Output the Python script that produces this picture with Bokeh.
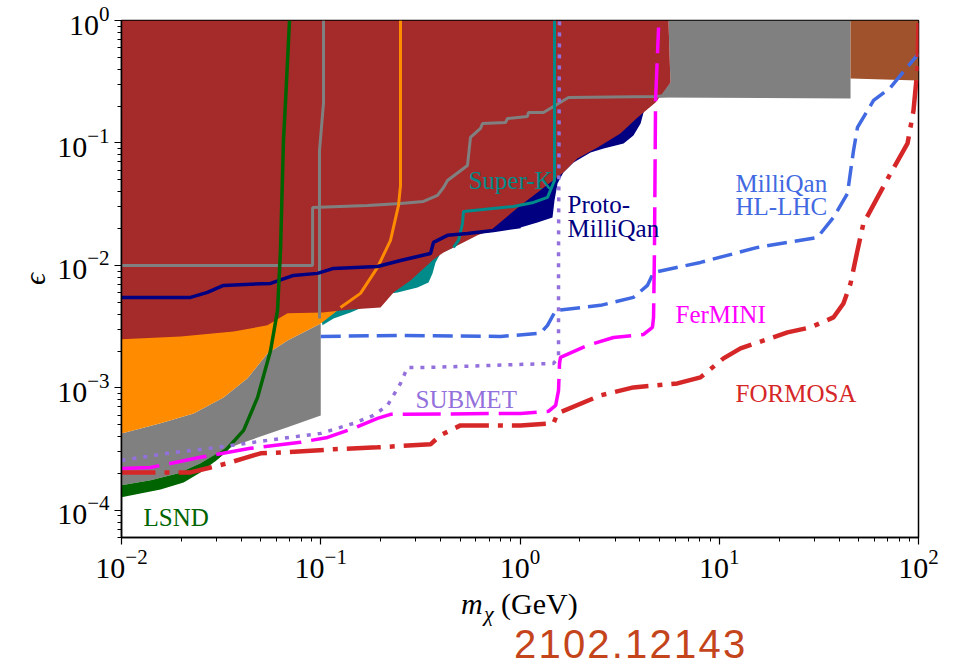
from bokeh.plotting import figure
from bokeh.models import Label, Div
from bokeh.layouts import column
from bokeh.embed import file_html
from bokeh.resources import INLINE

# ---------------- data (mass in GeV, epsilon) ----------------
brown_m = [0.01, 5.56, 5.69, 4.79, 3.89, 3.19, 2.45, 1.94, 1.65, 1.51, 1.006, 0.711, 0.612,
           0.4637, 0.4133, 0.368, 0.2821, 0.2318, 0.1995, 0.141, 0.102, 0.0681, 0.054,
           0.0365, 0.0198, 0.01]
brown_eps = [1.0, 1.0, 0.312, 0.214, 0.1615, 0.1196, 0.0919, 0.0747, 0.0574, 0.0513, 0.0309,
             0.0193, 0.0176, 0.01403, 0.01277, 0.01119, 0.00754, 0.00602, 0.00454, 0.00437,
             0.00413, 0.00406, 0.00324, 0.00289, 0.00263, 0.00249]

navy_m = [0.6335, 1.597, 4.52, 4.26, 4.03, 3.71, 3.31, 2.63, 2.26, 1.856, 1.65, 1.543, 1.49,
          1.456, 1.224, 1.006, 0.798, 0.6335]
navy_eps = [0.0212, 0.072, 0.244, 0.2024, 0.1443, 0.1151, 0.0991, 0.0902, 0.0836, 0.0693,
            0.0574, 0.0467, 0.0339, 0.0246, 0.0224, 0.0204, 0.0193, 0.01825]

teal_m = [0.1, 0.141, 0.2239, 0.3167, 0.5028, 0.5028, 0.4637, 0.399, 0.3767, 0.3638, 0.3474,
          0.3059, 0.2428, 0.2239, 0.1717, 0.141, 0.1159, 0.102]
teal_eps = [0.00398, 0.00489, 0.00687, 0.01058, 0.0176, 0.01541, 0.01403, 0.01253, 0.01058,
            0.00861, 0.00726, 0.00661, 0.00602, 0.00591, 0.00472, 0.00413, 0.00369, 0.00324]

orange_m = [0.01, 0.0681, 0.1256, 0.1256, 0.1, 0.0681, 0.054, 0.0429, 0.0325, 0.023, 0.0157, 0.01]
orange_eps = [0.00295, 0.00472, 0.00518, 0.00446, 0.00336, 0.00244, 0.00191, 0.0012,
              0.000836, 0.000619, 0.000513, 0.000425]

gray_low_m = [0.01, 0.0157, 0.023, 0.0325, 0.0429, 0.054, 0.0681, 0.1, 0.1, 0.0681, 0.0396,
              0.0325, 0.0249, 0.0191, 0.014, 0.01]
gray_low_eps = [0.000425, 0.000513, 0.000619, 0.000836, 0.0012, 0.00191, 0.00244, 0.00336,
                0.000596, 0.000476, 0.000352, 0.000309, 0.000242, 0.0002, 0.000176, 0.00016]

gray_top_m = [5.56, 45.6, 45.6, 4.9, 5.69]
gray_top_eps = [1.0, 1.0, 0.2308, 0.2351, 0.312]

sienna_m = [45.6, 100.0, 100.0, 45.6]
sienna_eps = [1.0, 1.0, 0.324, 0.336]

lsnd_fill_m = [0.01, 0.014, 0.0191, 0.0249, 0.0303, 0.0333, 0.0333, 0.029, 0.0249, 0.0205,
               0.0157, 0.01]
lsnd_fill_eps = [0.00016, 0.000176, 0.0002, 0.000242, 0.000292, 0.000321, 0.000298, 0.000246,
                 0.000204, 0.000169, 0.000148, 0.000128]

lsnd_m = [0.029, 0.0333, 0.041, 0.0482, 0.056, 0.0607, 0.0628, 0.065, 0.0666, 0.0697]
lsnd_eps = [0.000256, 0.000309, 0.00045, 0.000836, 0.00202, 0.00429, 0.01326, 0.1048, 0.2223, 1.0]

grayA_m = [0.1032, 0.1032, 0.0986, 0.0986]
grayA_eps = [1.0, 0.2101, 0.0869, 0.00369]

grayB_m = [0.01, 0.091, 0.091, 0.1717, 0.2514, 0.3279, 0.3854, 0.4133, 0.4326, 0.545, 0.5644,
           0.6335, 0.6483, 0.8459, 0.8656, 1.09, 1.103, 1.312, 1.752, 4.79, 5.56]
grayB_eps = [0.01, 0.01, 0.02975, 0.0309, 0.0321, 0.0333, 0.0373, 0.0433, 0.0494, 0.0655,
             0.1109, 0.1313, 0.1443, 0.147, 0.1585, 0.1646, 0.1774, 0.1774, 0.2351, 0.2396, 0.2441]

orange_line_m = [0.1256, 0.1583, 0.1927, 0.2239, 0.2456, 0.2514, 0.2514]
orange_line_eps = [0.00454, 0.00591, 0.00963, 0.016, 0.0309, 0.045, 1.0]

superk_m = [1.49, 1.49, 1.374, 1.169, 0.927, 0.5205, 0.5145, 0.4913, 0.4637]
superk_eps = [1.0, 0.0494, 0.0359, 0.0327, 0.0303, 0.0276, 0.022, 0.016, 0.01403]

proto_m = [0.01, 0.0222, 0.027, 0.0325, 0.056, 0.073, 0.0963, 0.1159, 0.1927, 0.2514, 0.3555,
           0.368, 0.4326, 0.545, 0.7362, 1.006]
proto_eps = [0.00548, 0.00548, 0.00602, 0.00687, 0.00713, 0.00829, 0.00861, 0.00945, 0.00981,
             0.01098, 0.01253, 0.01541, 0.0176, 0.01825, 0.0193, 0.0208]

hllhc_m = [0.1, 0.2514, 0.798, 1.267, 1.374, 1.51, 2.535, 3.71, 4.36, 4.68, 8.05, 15.56, 31.1,
           37.4, 44.0, 47.2, 49.4, 59.5, 72.4, 100.0]
hllhc_eps = [0.00263, 0.00268, 0.00263, 0.00279, 0.00324, 0.00429, 0.00472, 0.00548, 0.00687,
             0.00877, 0.01058, 0.01403, 0.01693, 0.0246, 0.0387, 0.0869, 0.1338, 0.2223,
             0.2838, 0.5377]

fermini_m = [0.01, 0.01398, 0.0249, 0.0444, 0.0791, 0.1081, 0.146, 0.1927, 0.2239, 1.006, 1.39,
             1.51, 1.561, 1.579, 1.597, 2.182, 2.947, 4.17, 4.62, 4.68, 4.73, 4.79, 4.96]
fermini_eps = [0.00022, 0.000224, 0.000271, 0.000321, 0.000359, 0.000394, 0.000467, 0.000564,
               0.000608, 0.000619, 0.000643, 0.00072, 0.000954, 0.001585, 0.001774, 0.00222,
               0.00258, 0.00273, 0.00312, 0.00376, 0.01326, 0.2223, 0.877]

submet_m = [0.01, 0.017, 0.0303, 0.054, 0.1, 0.146, 0.184, 0.2163, 0.2514, 0.2725, 0.3555,
            1.473, 1.561, 1.561, 1.579]
submet_eps = [0.000256, 0.000292, 0.000327, 0.000373, 0.000425, 0.000513, 0.000596, 0.00072,
              0.001088, 0.00147, 0.00147, 0.001585, 0.001774, 0.01326, 1.0]

formosa_m = [0.01, 0.0222, 0.028, 0.034, 0.041, 0.0499, 0.0681, 0.1159, 0.1927, 0.3555, 0.399,
             0.5028, 1.006, 1.473, 1.543, 2.535, 3.71, 6.17, 8.05, 10.5, 12.79, 22.0, 28.7,
             37.4, 42.0, 45.6, 49.4, 52.9, 72.4, 88.1, 94.4, 98.9, 100.0]
formosa_eps = [0.000204, 0.000204, 0.000224, 0.000242, 0.000266, 0.000292, 0.000298, 0.000315,
               0.000327, 0.000346, 0.00041, 0.000494, 0.000494, 0.000513, 0.000619, 0.000868,
               0.001009, 0.001088, 0.001218, 0.001741, 0.0021, 0.00284, 0.00312, 0.00376,
               0.00489, 0.00713, 0.01326, 0.022, 0.0564, 0.0991, 0.1842, 0.4134, 1.0]

# ---------------- figure ----------------
p = figure(width=950, height=587, x_axis_type="log", y_axis_type="log",
           x_range=(1e-2, 1e2), y_range=(6e-5, 1.0),
           output_backend="svg", toolbar_location=None,
           min_border_left=121, min_border_right=32, min_border_top=20, min_border_bottom=50)
p.background_fill_color = "white"
p.border_fill_color = "white"
p.outline_line_color = "black"
p.outline_line_width = 1.5
p.xgrid.visible = False
p.ygrid.visible = False

for ax in (p.xaxis, p.yaxis):
    ax.major_tick_in = 0
    ax.major_tick_out = 7
    ax.minor_tick_in = 0
    ax.minor_tick_out = 4
    ax.major_tick_line_color = "black"
    ax.minor_tick_line_color = "black"
    ax.major_tick_line_width = 1.2
    ax.minor_tick_line_width = 1.0
    ax.axis_line_color = "black"
    ax.axis_line_width = 1.5
    ax.major_label_text_font = "Liberation Serif"
    ax.major_label_text_font_size = "30px"
    ax.major_label_text_color = "black"
    ax.major_label_standoff = 5

p.yaxis.axis_label = "ϵ"
p.yaxis.axis_label_text_font = "Liberation Serif"
p.yaxis.axis_label_text_font_size = "30px"
p.yaxis.axis_label_text_font_style = "italic"
p.yaxis.axis_label_text_color = "black"
p.yaxis.axis_label_standoff = 3

# fills
p.patch(gray_top_m, gray_top_eps, fill_color="#808080", line_color=None)
p.patch(sienna_m, sienna_eps, fill_color="#A0522D", line_color=None)
p.patch(navy_m, navy_eps, fill_color="#000080", line_color=None)
p.patch(teal_m, teal_eps, fill_color="#008B8B", line_color=None)
p.patch(gray_low_m, gray_low_eps, fill_color="#808080", line_color=None)
p.patch(orange_m, orange_eps, fill_color="#FF8C00", line_color=None)
p.patch(brown_m, brown_eps, fill_color="#A52A2A", line_color=None)
p.patch(lsnd_fill_m, lsnd_fill_eps, fill_color="#006400", line_color=None)

# solid boundary lines
p.line(grayA_m, grayA_eps, line_color="#808080", line_width=3)
p.line(grayB_m, grayB_eps, line_color="#808080", line_width=3)
p.line(orange_line_m, orange_line_eps, line_color="#FF8C00", line_width=3)
p.line(superk_m, superk_eps, line_color="#008B8B", line_width=3)
p.line(proto_m, proto_eps, line_color="#000080", line_width=3.5)
p.line(lsnd_m, lsnd_eps, line_color="#006400", line_width=3.5)

# projections
p.line(hllhc_m, hllhc_eps, line_color="#4169E1", line_width=3.5, line_dash="20 8")
p.line(fermini_m, fermini_eps, line_color="#FF00FF", line_width=3.5, line_dash="38 10")
p.line(submet_m, submet_eps, line_color="#9370DB", line_width=3.5, line_dash="4 7")
p.line(formosa_m, formosa_eps, line_color="#D62728", line_width=4.5, line_dash="34 9 5 9")

# in-plot labels
def lab(x, y, text, color, size="25px"):
    p.add_layout(Label(x=x, y=y, text=text, text_color=color, text_font="Liberation Serif",
                       text_font_size=size, text_baseline="alphabetic", text_align="left"))

lab(0.551, 0.0494, "Super-K", "#008B8B")
lab(1.732, 0.0315, "Proto-", "#000080")
lab(1.732, 0.02005, "MilliQan", "#000080")
lab(12.07, 0.0467, "MilliQan", "#4169E1")
lab(12.07, 0.0303, "HL-LHC", "#4169E1")
lab(6.03, 0.00398, "FerMINI", "#FF00FF")
lab(12.07, 0.000902, "FORMOSA", "#D62728")
lab(0.2989, 0.000805, "SUBMET", "#9370DB")
lab(0.01289, 8.77e-5, "LSND", "#006400")

# x-axis title and arXiv stamp, as HTML text under the plot
span = ('<span style="position:absolute;left:{l}px;top:{t}px;font-family:{f};font-size:{s}px;'
        'font-style:{st};line-height:1;white-space:nowrap;letter-spacing:{ls}px;color:{c};">{x}</span>')
html = ('<div style="position:relative;width:950px;height:78px;">'
        + span.format(l=456, t=-2.6, f="'Liberation Serif'", s=30, st="italic", ls=0, c="black", x="m")
        + span.format(l=479, t=10.6, f="'Liberation Serif'", s=22, st="italic", ls=0, c="black", x="χ")
        + span.format(l=496, t=-2.6, f="'Liberation Serif'", s=30, st="normal", ls=0, c="black", x="(GeV)")
        + span.format(l=509, t=31.6, f="'Liberation Sans'", s=40, st="normal", ls=2.2, c="#C4441C",
                      x="2102.12143")
        + '</div>')
stamp = Div(text=html, width=950, height=78, styles={"overflow": "visible"})

layout = column(p, stamp, spacing=0)
open("out.html", "w").write(file_html(layout, INLINE))
